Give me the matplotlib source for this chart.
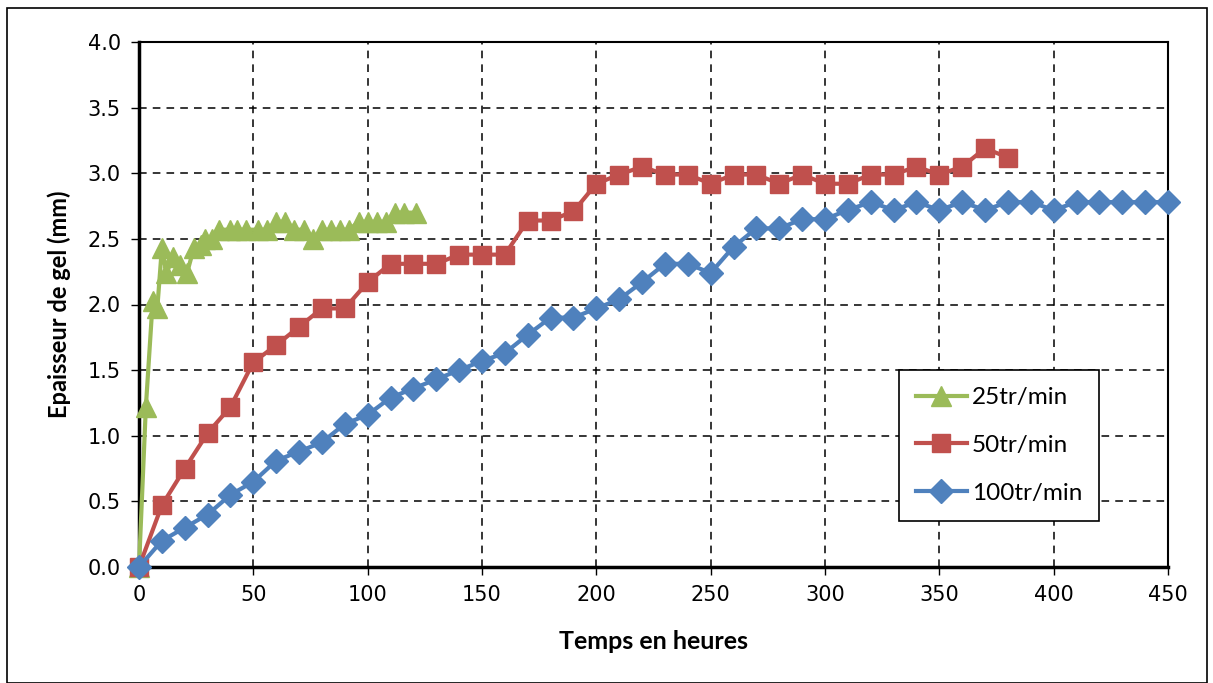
import matplotlib
matplotlib.use('Agg')
import matplotlib.pyplot as plt
from matplotlib.patches import Rectangle

# data
x_25 = [0, 3, 6, 8, 10, 12, 15, 18, 21, 24, 27, 29, 32, 35, 40, 43, 47, 52, 56, 60, 64, 68,
        72, 76, 80, 84, 88, 92, 96, 100, 104, 108, 112, 116, 121]
y_25 = [0.0, 1.22, 2.03, 1.97, 2.43, 2.24, 2.36, 2.30, 2.24, 2.43, 2.45, 2.50, 2.50, 2.57,
        2.57, 2.57, 2.57, 2.57, 2.57, 2.63, 2.63, 2.57, 2.57, 2.50, 2.57, 2.57, 2.57, 2.57,
        2.63, 2.63, 2.63, 2.63, 2.70, 2.70, 2.70]

x_50 = list(range(0, 390, 10))
y_50 = [0.0, 0.47, 0.75, 1.02, 1.22, 1.56, 1.69, 1.83, 1.97, 1.97, 2.17, 2.31, 2.31, 2.31,
        2.38, 2.38, 2.38, 2.64, 2.64, 2.71, 2.92, 2.99, 3.05, 2.99, 2.99, 2.92, 2.99, 2.99,
        2.92, 2.99, 2.92, 2.92, 2.99, 2.99, 3.05, 2.99, 3.05, 3.19, 3.12]

x_100 = list(range(0, 460, 10))
y_100 = [0.0, 0.20, 0.30, 0.40, 0.55, 0.65, 0.81, 0.88, 0.95, 1.09, 1.16, 1.29, 1.36, 1.43,
         1.50, 1.57, 1.63, 1.77, 1.90, 1.90, 1.97, 2.04, 2.17, 2.31, 2.31, 2.24, 2.44, 2.58,
         2.58, 2.65, 2.65, 2.72, 2.78, 2.72, 2.78, 2.72, 2.78, 2.72, 2.78, 2.78, 2.72, 2.78,
         2.78, 2.78, 2.78, 2.78]

labels = ['25tr/min', '50tr/min', '100tr/min']
x_ticks = list(range(0, 500, 50))
y_ticks = [0.0, 0.5, 1.0, 1.5, 2.0, 2.5, 3.0, 3.5, 4.0]

green = '#9BBB59'
red = '#C0504D'
blue = '#4F81BD'

fig = plt.figure(figsize=(12.13, 6.83), dpi=100)
# outer frame
fig.patches.append(Rectangle((7 / 1213, 0.0), 1200 / 1213, 675 / 683, transform=fig.transFigure,
                             fill=False, edgecolor='black', linewidth=1.2))
ax = fig.add_axes([139 / 1213, 116 / 683, 1029 / 1213, 525 / 683])

ax.plot(x_25, y_25, color=green, lw=3, marker='^', ms=15, label=labels[0], zorder=3, clip_on=False)
ax.plot(x_50, y_50, color=red, lw=3, marker='s', ms=13.5, label=labels[1], zorder=4, clip_on=False)
ax.plot(x_100, y_100, color=blue, lw=3, marker='D', ms=12, label=labels[2], zorder=5, clip_on=False)

ax.set_xlim(0, 450)
ax.set_ylim(0, 4.0)
ax.set_xticks(x_ticks)
ax.set_yticks(y_ticks)
ax.set_yticklabels(['%.1f' % v for v in y_ticks])
ax.tick_params(axis='both', labelsize=15, direction='out', length=6, width=1, pad=7)
ax.grid(True, color='black', linestyle=(0, (5, 4)), linewidth=1.1)
for s in ax.spines.values():
    s.set_linewidth(1.5)
ax.spines['left'].set_linewidth(2.5)
ax.spines['bottom'].set_linewidth(2.5)

ax.set_xlabel('Temps en heures', fontsize=18, fontweight='bold', family='Lato', labelpad=18)
ax.set_ylabel('Epaisseur de gel (mm)', fontsize=17, fontweight='bold', family='Lato', labelpad=12)

leg = ax.legend(loc='upper right', bbox_to_anchor=(0.933, 0.375), fancybox=False,
                framealpha=1, edgecolor='black', prop={'family': 'Lato', 'size': 17.5},
                handlelength=2.1, handletextpad=0.2, labelspacing=1.1, borderpad=0.7,
                borderaxespad=0)
leg.get_frame().set_linewidth(1.2)

fig.savefig('out.png', dpi=100)
